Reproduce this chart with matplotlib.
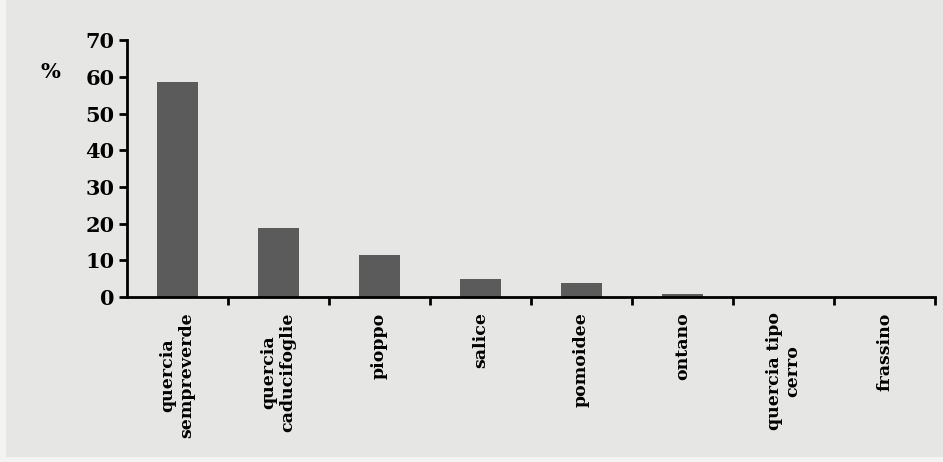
import matplotlib.pyplot as plt
from matplotlib.patches import Rectangle
import numpy as np

# Dati (percentuali)
CATEGORIES = ["quercia\nsempreverde", "quercia\ncaducifoglie", "pioppo", "salice",
              "pomoidee", "ontano", "quercia tipo\ncerro", "frassino"]
VALUES = [58.6, 18.8, 11.4, 4.9, 3.8, 0.9, 0.0, 0.0]
YTICKS = [0, 10, 20, 30, 40, 50, 60, 70]

BG = "#e6e6e4"
EDGE = "#f3f3f1"
BAR = "#5b5b5b"

plt.rcParams.update({
    "font.family": "DejaVu Serif",
    "font.weight": "bold",
    "font.size": 15,
})

fig = plt.figure(figsize=(9.43, 4.62), dpi=100, facecolor=EDGE)
# fondo grigio della scansione, con bordino chiaro a sinistra e in basso
fig.patches.append(Rectangle((6 / 943, 5 / 462), 1, 1, transform=fig.transFigure,
                             facecolor=BG, edgecolor="none", zorder=-5))
ax = fig.add_axes([0.1347, 0.357, 0.857, 0.556], facecolor="none")

x = np.arange(len(CATEGORIES))
ax.bar(x, VALUES, width=0.4, color=BAR, zorder=2)

ax.set_xlim(-0.5, len(CATEGORIES) - 0.5)
ax.set_ylim(0, 70)
ax.set_yticks(YTICKS)
ax.set_yticklabels([str(v) for v in YTICKS], fontsize=15, fontweight="bold")

# tacche sull'asse x ai confini tra categorie, etichette al centro
ax.set_xticks(x + 0.5)
ax.set_xticklabels([])
ax.set_xticks(x, minor=True)
ax.set_xticklabels(CATEGORIES, minor=True, rotation=90, fontsize=12.5,
                   fontweight="bold", va="top", ha="center",
                   multialignment="center", linespacing=1.15)
ax.tick_params(axis="x", which="major", direction="out", length=6, width=2)
ax.tick_params(axis="x", which="minor", length=0, pad=11)
ax.tick_params(axis="y", direction="out", length=6, width=2, pad=3)

for s in ["top", "right"]:
    ax.spines[s].set_visible(False)
for s in ["left", "bottom"]:
    ax.spines[s].set_linewidth(2)

fig.text(0.053, 0.844, "%", fontsize=15, fontweight="bold", ha="center", va="center")

fig.savefig("out.png", dpi=100, facecolor=EDGE)
